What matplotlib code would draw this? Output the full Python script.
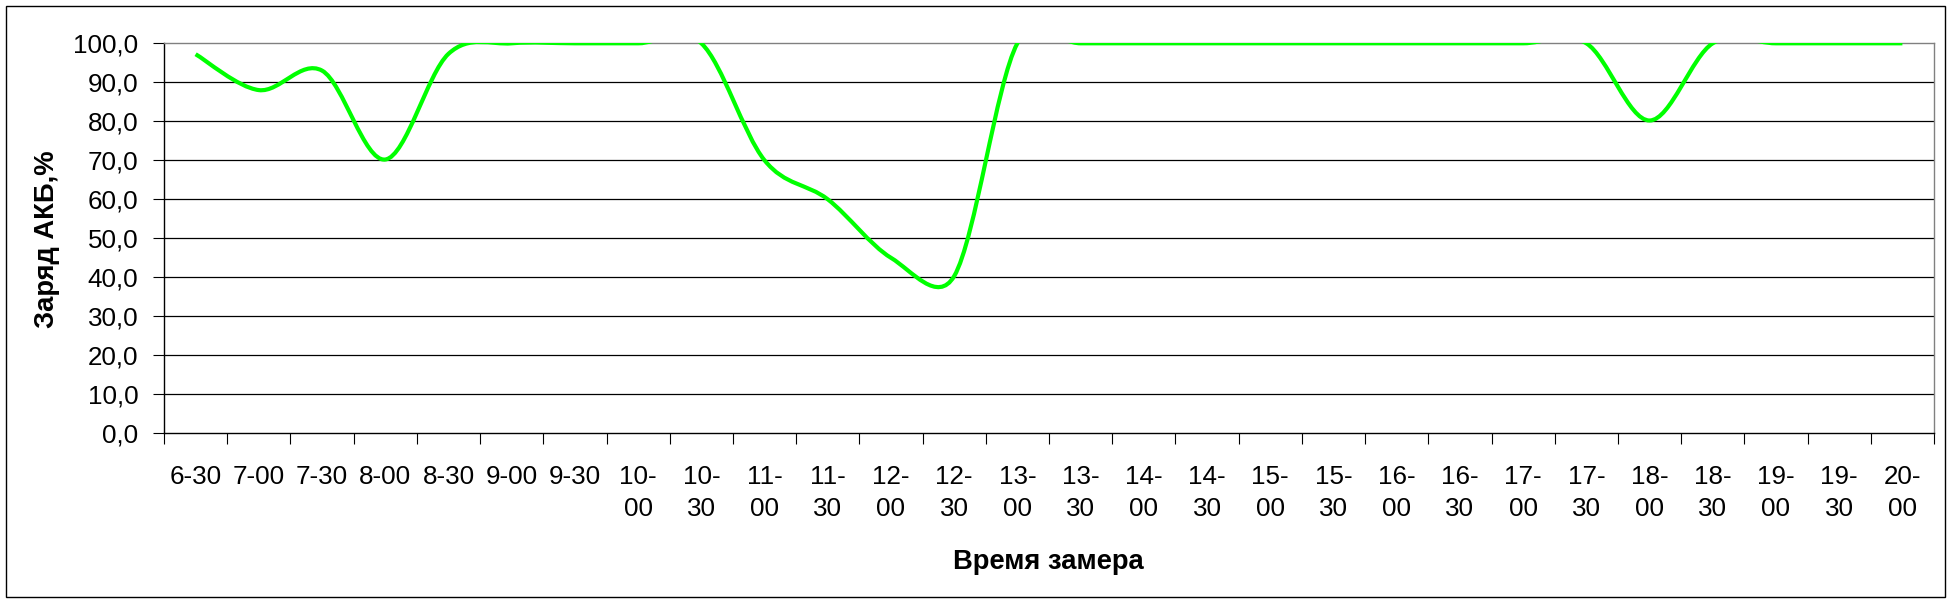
import matplotlib
matplotlib.use("Agg")
import matplotlib.pyplot as plt
import numpy as np
from matplotlib.path import Path
from matplotlib.patches import PathPatch, Rectangle
from matplotlib.ticker import FuncFormatter, FixedLocator

plt.rcParams['font.family'] = ['Liberation Sans', 'DejaVu Sans']

# ---- data ----
categories = ["6-30", "7-00", "7-30", "8-00", "8-30", "9-00", "9-30", "10-00",
              "10-30", "11-00", "11-30", "12-00", "12-30", "13-00", "13-30",
              "14-00", "14-30", "15-00", "15-30", "16-00", "16-30", "17-00",
              "17-30", "18-00", "18-30", "19-00", "19-30", "20-00"]
charge = [97.2, 88.0, 93.0, 70.2, 97.3, 100, 100, 100,
          100, 70.0, 60.0, 45.0, 40.3, 100, 100,
          100, 100, 100, 100, 100, 100, 100,
          100, 80.2, 100, 100, 100, 100]
y_ticks = [0, 10, 20, 30, 40, 50, 60, 70, 80, 90, 100]
tick_labels = [c.replace("-", "-\n") if len(c) > 4 else c for c in categories]

W, H = 1953, 603
fig = plt.figure(figsize=(W / 100, H / 100), dpi=100)
left, right, top, bottom = 164, 1934, 43.3, 433.3
ax = fig.add_axes([left / W, 1 - bottom / H, (right - left) / W, (bottom - top) / H])

n = len(categories)
xs = list(range(n))
ax.set_xlim(-0.5, n - 0.5)
ax.set_ylim(0, 100)

# Excel-like smoothed line: cubic Bezier, control points computed in display space
P = ax.transData.transform(np.column_stack([xs, charge]))
verts = [P[0]]
codes = [Path.MOVETO]


def ctrl(i, toward):
    """control offset at point i, pointing to neighbour `toward`"""
    a = P[max(i - 1, 0)]
    b = P[min(i + 1, n - 1)]
    tan = b - a
    d = np.hypot(*tan)
    if d == 0:
        return np.zeros(2)
    f = 1 / 6
    seg = np.hypot(*(P[toward] - P[i]))
    if f * d > seg / 2:
        f = seg / (2 * d)
    v = tan * f
    return v if toward > i else -v


for i in range(n - 1):
    c1 = P[i] + ctrl(i, i + 1)
    c2 = P[i + 1] + ctrl(i + 1, i)
    verts += [c1, c2, P[i + 1]]
    codes += [Path.CURVE4] * 3
verts = ax.transData.inverted().transform(np.array(verts))
ax.add_patch(PathPatch(Path(verts, codes), fill=False, edgecolor='#00ff00',
                       lw=3.0, zorder=3, capstyle='butt', joinstyle='round'))

# y axis
ax.yaxis.set_major_locator(FixedLocator(y_ticks))
ax.yaxis.set_major_formatter(FuncFormatter(lambda v, p: f"{v:.1f}".replace(".", ",")))
ax.tick_params(axis='y', direction='out', length=8, width=0.8, color='black',
               labelsize=18.7, pad=10.6)
ax.yaxis.grid(True, color='black', lw=0.9)
ax.set_axisbelow(True)
gl = ax.get_ygridlines()
gl[-1].set_visible(False)
gl[0].set_visible(False)
ax.yaxis.get_major_ticks()[-1].tick1line.set_color('#808080')

# x axis
ax.set_xticks(xs)
ax.set_xticklabels(tick_labels)
ax.set_xticks([i - 0.5 for i in range(n + 1)], minor=True)
ax.tick_params(axis='x', which='major', length=0, labelsize=18.7, pad=23)
ax.tick_params(axis='x', which='minor', direction='out', length=8, width=0.8, color='black')
for t in ax.get_xticklabels():
    t.set_linespacing(1.43)

for s in ['left', 'bottom']:
    ax.spines[s].set_color('black')
    ax.spines[s].set_linewidth(1.0)
for s in ['top', 'right']:
    ax.spines[s].set_color('#808080')
    ax.spines[s].set_linewidth(1.0)

fig.text(1048 / W, 1 - 562 / H, "Время замера", fontsize=19.7, fontweight='bold',
         ha='center', va='center')
fig.text(47 / W, 1 - 239 / H, "Заряд АКБ,%", fontsize=19.7, fontweight='bold',
         ha='center', va='center', rotation=90)

fig.patches.append(Rectangle((6 / W, 6 / H), (1945 - 6) / W, (597 - 6) / H,
                             transform=fig.transFigure, fill=False,
                             edgecolor='black', lw=1.0))

fig.savefig("out.png", dpi=100)
